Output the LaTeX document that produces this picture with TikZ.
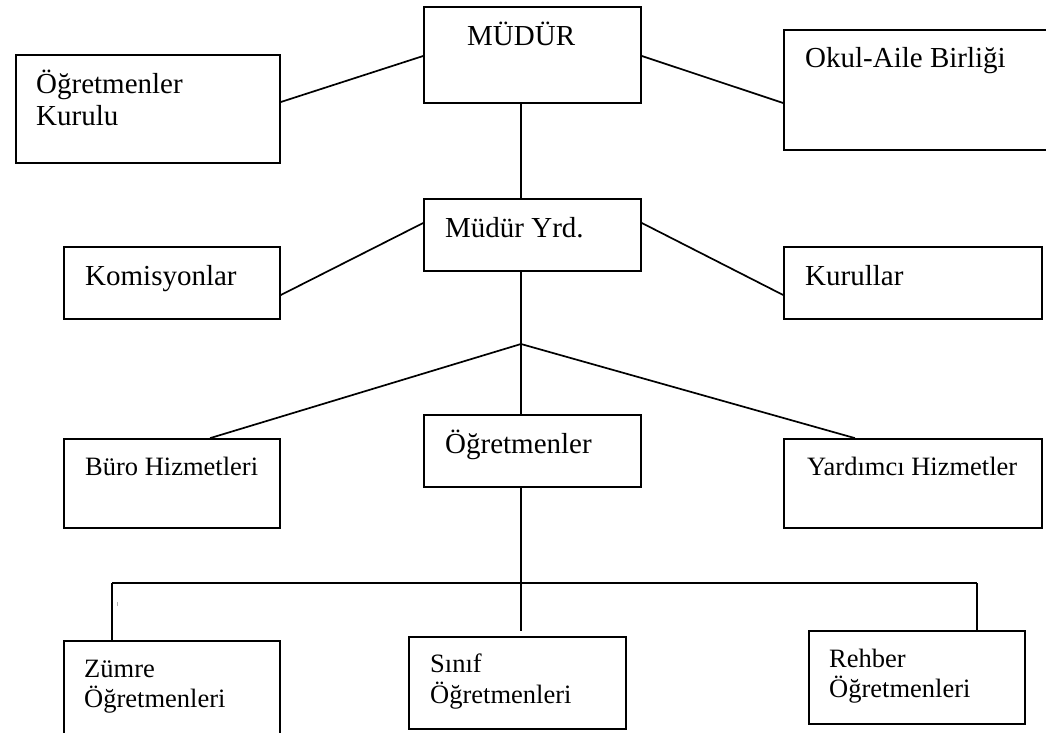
\documentclass[tikz,border=0pt]{standalone}
\usepackage{fontspec}
\setmainfont{Liberation Serif}
\begin{document}
\begin{tikzpicture}[x=1pt,y=-1pt,
  box/.style={draw, line width=1.7pt, inner sep=0pt, minimum width=#1},
  conn/.style={line width=1.7pt},
  bigtxt/.style={font=\fontsize{29}{32}\selectfont, anchor=base west, inner sep=0pt},
  smalltxt/.style={font=\fontsize{26.5}{30}\selectfont, anchor=base west, inner sep=0pt}]
\useasboundingbox (0,0) rectangle (1046,733);
\clip (0,0) rectangle (1046,733);
% boxes
\node[box=217pt, minimum height=96pt]  (mudur)    at (532.5,55)  {};
\node[box=264pt, minimum height=108pt] (kurulu)   at (148,109)   {};
\node[box=316pt, minimum height=120pt] (okul)     at (942,90)    {};
\node[box=217pt, minimum height=72pt]  (yrd)      at (532.5,235) {};
\node[box=216pt, minimum height=72pt]  (komis)    at (172,283)   {};
\node[box=258pt, minimum height=72pt]  (kurullar) at (913,283)   {};
\node[box=217pt, minimum height=72pt]  (ogret)    at (532.5,451) {};
\node[box=216pt, minimum height=89pt]  (buro)     at (172,483.5) {};
\node[box=258pt, minimum height=89pt]  (yard)     at (913,483.5) {};
\node[box=216pt, minimum height=119pt] (zumre)    at (172,700.5) {};
\node[box=217pt, minimum height=92pt]  (sinif)    at (517.5,683) {};
\node[box=216pt, minimum height=93pt]  (rehber)   at (917,677.5) {};
% texts
\node[bigtxt] (t-mudur) at (467,46) {MÜDÜR};
\node[bigtxt] (t-kur1) at (36,94) {Öğretmenler};
\node[bigtxt] (t-kur2) at (36,126) {Kurulu};
\node[bigtxt] (t-okul) at (805,68) {Okul-Aile Birliği};
\node[bigtxt] (t-yrd) at (445,237) {Müdür Yrd.};
\node[bigtxt] (t-komis) at (85,285) {Komisyonlar};
\node[bigtxt] (t-kurullar) at (805,285) {Kurullar};
\node[bigtxt] (t-ogret) at (445,453) {Öğretmenler};
\node[smalltxt] (t-buro) at (85,475) {Büro Hizmetleri};
\node[smalltxt] (t-yard) at (807,475) {Yardımcı Hizmetler};
\node[smalltxt] (t-zum1) at (84,677) {Zümre};
\node[smalltxt] (t-zum2) at (84,707) {Öğretmenleri};
\node[smalltxt] (t-sin1) at (430,672) {Sınıf};
\node[smalltxt] (t-sin2) at (430,703) {Öğretmenleri};
\node[smalltxt] (t-reh1) at (829,667) {Rehber};
\node[smalltxt] (t-reh2) at (829,697) {Öğretmenleri};
% connectors
\draw[conn] ([yshift=-1pt]mudur.west) -- ([yshift=7pt]kurulu.east);
\draw[conn] ([yshift=-1pt]mudur.east) -- ([yshift=-13pt]okul.west);
\draw[conn] ([xshift=-11.5pt]mudur.south) -- ([xshift=-11.5pt]yrd.north);
\draw[conn] ([yshift=12pt]yrd.west) -- ([yshift=-12pt]komis.east);
\draw[conn] ([yshift=12pt]yrd.east) -- ([yshift=-12pt]kurullar.west);
\coordinate (j1) at (521,344);
\draw[conn] ([xshift=-11.5pt]yrd.south) -- (j1);
\draw[conn] (j1) -- ([xshift=38pt]buro.north);
\draw[conn] (j1) -- ([xshift=-58pt]yard.north);
\draw[conn] (j1) -- ([xshift=-11.5pt]ogret.north);
\coordinate (j2) at (521,583);
\coordinate (bl) at (112,583);
\coordinate (br) at (977,583);
\coordinate (se) at (521,631);
\draw[conn] ([xshift=-11.5pt]ogret.south) -- (j2);
\draw[conn] (bl) -- (br);
\draw[conn] (bl) -- ([xshift=-60pt]zumre.north);
\draw[conn] (j2) -- (se);
\draw[conn] (br) -- ([xshift=60pt]rehber.north);
% stray mark
\draw[gray!60, line width=0.6pt] (117,602) -- (117,606);
\end{tikzpicture}
\end{document}
